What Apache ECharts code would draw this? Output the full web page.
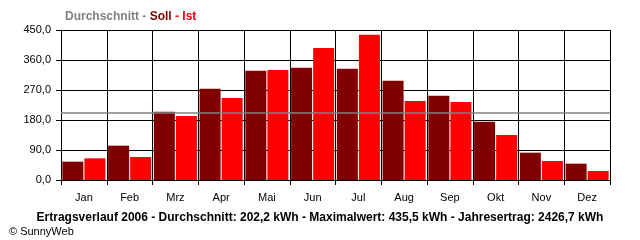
<!DOCTYPE html>
<html>
<head>
<meta charset="utf-8">
<script src="https://cdn.jsdelivr.net/npm/echarts@6/dist/echarts.min.js"></script>
<style>
  html, body { margin: 0; padding: 0; background: #fff; }
  #chart { width: 640px; height: 240px; }
</style>
</head>
<body>
<div id="chart"></div>
<script>
  // Monatswerte (kWh)
  var months = ["Jan", "Feb", "Mrz", "Apr", "Mai", "Jun", "Jul", "Aug", "Sep", "Okt", "Nov", "Dez"];
  var soll = [55, 103, 205, 274, 328, 337, 334, 298, 253, 175, 82, 49];
  var ist = [65, 69, 192, 246, 330, 396, 435.5, 237, 234, 135, 57, 27];
  var durchschnitt = 202.2;
  var yTicks = [0, 90, 180, 270, 360, 450];

  var font = "Liberation Sans";
  var chart = echarts.init(document.getElementById("chart"));

  var option = {
    backgroundColor: "#fff",
    animation: false,
    title: [
      {
        left: 60,
        top: 6,
        text: "{g|Durchschnitt - }{s|Soll}{i| - Ist}",
        textStyle: {
          rich: {
            g: { color: "#808080", fontWeight: "bold", fontSize: 12, fontFamily: font },
            s: { color: "#800000", fontWeight: "bold", fontSize: 12, fontFamily: font },
            i: { color: "#ff0000", fontWeight: "bold", fontSize: 12, fontFamily: font }
          }
        }
      },
      {
        left: "center",
        top: 207,
        text: "Ertragsverlauf 2006 - Durchschnitt: 202,2 kWh - Maximalwert: 435,5 kWh - Jahresertrag: 2426,7 kWh",
        textStyle: { color: "#000", fontWeight: "bold", fontSize: 12, fontFamily: font }
      },
      {
        left: 4,
        top: 221,
        text: "© SunnyWeb",
        textStyle: { color: "#000", fontWeight: "normal", fontSize: 11, fontFamily: font }
      }
    ],
    grid: {
      left: 61,
      right: 30,
      top: 30,
      bottom: 60
    },
    xAxis: {
      type: "category",
      data: months,
      axisLine: { lineStyle: { color: "#000", width: 1 } },
      axisTick: { show: true, length: 5, lineStyle: { color: "#000" } },
      splitLine: { show: true, lineStyle: { color: "#000", width: 1 } },
      axisLabel: { color: "#000", fontSize: 11, fontFamily: font, margin: 12, interval: 0 }
    },
    yAxis: {
      type: "value",
      min: yTicks[0],
      max: yTicks[yTicks.length - 1],
      interval: 90,
      axisLine: { show: true, lineStyle: { color: "#000", width: 1 } },
      axisTick: { show: true, length: 5, lineStyle: { color: "#000" } },
      splitLine: { show: true, lineStyle: { color: "#000", width: 1 } },
      axisLabel: {
        color: "#000",
        fontSize: 11,
        fontFamily: font,
        margin: 10,
        formatter: function (v) {
          return v.toFixed(1).replace(".", ",");
        }
      }
    },
    series: [
      {
        name: "Soll",
        type: "bar",
        data: soll,
        barWidth: 21,
        barGap: "5%",
        itemStyle: { color: "#800000" }
      },
      {
        name: "Ist",
        type: "bar",
        data: ist,
        barWidth: 21,
        itemStyle: { color: "#ff0000" },
        markLine: {
          // Durchschnittslinie ueber den Balken
          silent: true,
          symbol: ["none", "none"],
          z: 10,
          label: { show: false },
          lineStyle: { color: "#808080", type: "solid", width: 1.5, opacity: 1 },
          data: [{ yAxis: durchschnitt }]
        }
      }
    ]
  };

  chart.setOption(option);
</script>
</body>
</html>
